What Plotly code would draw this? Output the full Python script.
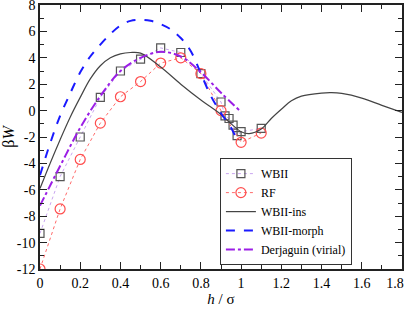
import plotly.graph_objects as go

# WBII simulation points
wbii_h = [0, 0.1, 0.2, 0.3, 0.4, 0.5, 0.6, 0.7, 0.8, 0.9, 0.92, 0.94, 0.96, 0.98, 1.0, 1.1]
wbii_w = [-9.3, -5.0, -2.0, 1.0, 3.0, 3.9, 4.75, 4.4, 2.8, 0.65, -0.4, -0.6, -1.1, -1.9, -1.6, -1.35]

# RF points
rf_h = [0, 0.1, 0.2, 0.3, 0.4, 0.5, 0.6, 0.7, 0.8, 0.9, 1.0, 1.1]
rf_w = [-12.0, -7.45, -3.7, -0.95, 1.05, 2.2, 3.6, 4.0, 2.8, 0.0, -2.4, -1.7]

# WBII-ins curve
ins_h = [0, 0.05, 0.1, 0.15, 0.2, 0.25, 0.3, 0.35, 0.4, 0.45, 0.5, 0.6, 0.7, 0.8, 0.9,
         0.95, 1.0, 1.04, 1.1, 1.15, 1.2, 1.25, 1.3, 1.4, 1.45, 1.5, 1.6, 1.7, 1.8]
ins_w = [-5.9, -4.0, -2.2, -0.5, 1.0, 2.4, 3.4, 4.0, 4.3, 4.4, 4.35, 3.3, 2.0, 0.8, -0.3,
         -1.0, -1.6, -1.75, -1.4, -0.6, 0.1, 0.75, 1.1, 1.33, 1.36, 1.3, 0.95, 0.4, -0.13]

# WBII-morph curve
morph_h = [0, 0.05, 0.1, 0.15, 0.2, 0.25, 0.3, 0.35, 0.4, 0.45, 0.5, 0.55, 0.6, 0.65, 0.7,
           0.75, 0.8, 0.85, 0.9, 0.95, 0.97]
morph_w = [-4.9, -2.5, -0.4, 1.3, 2.9, 4.1, 5.0, 5.8, 6.45, 6.8, 6.88, 6.8, 6.55, 6.15, 5.5,
           4.5, 2.8, 1.1, -0.2, -1.3, -1.9]

# Derjaguin (virial) curve
derj_h = [0, 0.1, 0.2, 0.3, 0.4, 0.5, 0.6, 0.7, 0.8, 0.9, 1.0]
derj_w = [-7.2, -4.2, -1.3, 1.1, 3.0, 4.0, 4.45, 4.1, 2.9, 1.35, -0.1]

x_ticks = [0, 0.2, 0.4, 0.6, 0.8, 1, 1.2, 1.4, 1.6, 1.8]
x_ticktext = ["0", "0.2", "0.4", "0.6", "0.8", "1", "1.2", "1.4", "1.6", "1.8\u00a0\u00a0\u00a0\u00a0"]
y_ticks = [-12, -10, -8, -6, -4, -2, 0, 2, 4, 6, 8]

FONT = "Liberation Serif"

fig = go.Figure()
fig.add_trace(go.Scatter(
    x=wbii_h, y=wbii_w, name="WBII", mode="lines+markers",
    line=dict(color="#c9a6f0", width=1, dash="dot"),
    marker=dict(symbol="square-open", size=8, color="#555555", line=dict(width=1.2))))
fig.add_trace(go.Scatter(
    x=rf_h, y=rf_w, name="RF", mode="lines+markers",
    line=dict(color="#ff6a6a", width=1, dash="dot"),
    marker=dict(symbol="circle-open", size=10, color="#ff4d4d", line=dict(width=1.2))))
fig.add_trace(go.Scatter(
    x=ins_h, y=ins_w, name="WBII-ins", mode="lines", line_shape="spline",
    line=dict(color="#444444", width=1.2)))
fig.add_trace(go.Scatter(
    x=morph_h, y=morph_w, name="WBII-morph", mode="lines", line_shape="spline",
    line=dict(color="#1a1aff", width=2, dash="dash")))
fig.add_trace(go.Scatter(
    x=derj_h, y=derj_w, name="Derjaguin (virial)", mode="lines", line_shape="spline",
    line=dict(color="#9b1ee6", width=2, dash="dashdot")))

axis_common = dict(
    showgrid=False, zeroline=False, showline=True, linecolor="#222222", linewidth=1.5,
    mirror="ticks", ticks="inside", ticklen=7, tickcolor="#222222", tickwidth=1,
    tickfont=dict(family=FONT, size=14, color="black"),
    automargin=False, ticklabeloverflow="allow",
)

fig.update_layout(
    width=409, height=311,
    margin=dict(l=40, r=7, t=5, b=42),
    paper_bgcolor="white", plot_bgcolor="white",
    font=dict(family=FONT, size=14, color="black"),
    xaxis=dict(range=[0, 1.8], tickvals=x_ticks, ticktext=x_ticktext,
               minor=dict(dtick=0.1, ticks="inside", ticklen=4, tickcolor="#222222"),
               title=dict(text="<i>h</i> / σ", font=dict(family=FONT, size=15), standoff=0),
               **axis_common),
    yaxis=dict(range=[-12, 8], tickvals=y_ticks, ticktext=[str(v) for v in y_ticks],
               minor=dict(dtick=1, ticks="inside", ticklen=4, tickcolor="#222222"),
               title=dict(text="β<i>W</i>", font=dict(family=FONT, size=16), standoff=4),
               **axis_common),
    legend=dict(x=0.497, y=0.42, xanchor="left", yanchor="top",
                bgcolor="white", bordercolor="#333333", borderwidth=1,
                font=dict(family=FONT, size=12), tracegroupgap=0,
                itemwidth=30),
    showlegend=True,
)

fig.write_html("out.html", config={"displayModeBar": False},
               post_script="document.body.style.margin='0';document.body.style.overflow='hidden';")
